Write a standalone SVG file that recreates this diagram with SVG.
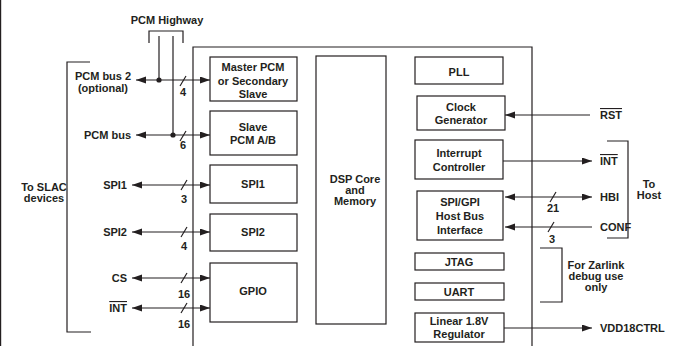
<svg xmlns="http://www.w3.org/2000/svg" width="673" height="346" viewBox="0 0 673 346">
<defs>
<marker id="ah" markerUnits="userSpaceOnUse" markerWidth="11" markerHeight="8" refX="10" refY="3.5" orient="auto-start-reverse">
<path d="M0,0 L10,3.5 L0,7 z" fill="#231f20"/>
</marker>
<style>
text{font-family:"Liberation Sans",Arial,sans-serif;font-weight:bold;font-size:11px;fill:#231f20}
.c{text-anchor:middle}
.r{text-anchor:end}
.box{fill:#fff;stroke:#231f20;stroke-width:1.2}
.ln{fill:none;stroke:#231f20;stroke-width:1.2}
.a2{marker-start:url(#ah);marker-end:url(#ah)}
.a1{marker-end:url(#ah)}
.ov{text-decoration:overline}
</style>
</defs>
<rect width="673" height="346" fill="#fff"/>
<line x1="0.6" y1="0" x2="0.6" y2="346" class="ln"/>

<g id="chip"><path class="ln" d="M193,346 V47 H532 V346"/></g>

<g id="master-pcm"><rect class="box" x="210" y="57" width="87" height="44"/>
<text class="c" x="253" y="71">Master PCM</text><text class="c" x="253" y="85">or Secondary</text><text class="c" x="253" y="98">Slave</text></g>
<g id="slave-pcm"><rect class="box" x="210" y="111" width="87" height="44"/>
<text class="c" x="253" y="131">Slave</text><text class="c" x="253" y="144">PCM A/B</text></g>
<g id="spi1"><rect class="box" x="210" y="165" width="87" height="38"/><text class="c" x="253" y="188">SPI1</text></g>
<g id="spi2"><rect class="box" x="210" y="214" width="87" height="37"/><text class="c" x="253" y="236">SPI2</text></g>
<g id="gpio"><rect class="box" x="210" y="263" width="87" height="59"/><text class="c" x="253" y="295">GPIO</text></g>
<g id="dsp"><rect class="box" x="316" y="56" width="70" height="268"/>
<text class="c" x="355" y="183">DSP Core</text><text class="c" x="355" y="194">and</text><text class="c" x="355" y="205">Memory</text></g>
<g id="pll"><rect class="box" x="415" y="57" width="88" height="27"/><text class="c" x="459" y="76">PLL</text></g>
<g id="clock"><rect class="box" x="417" y="96" width="88" height="34"/>
<text class="c" x="461" y="111">Clock</text><text class="c" x="461" y="124">Generator</text></g>
<g id="interrupt"><rect class="box" x="415" y="140" width="88" height="39"/>
<text class="c" x="459" y="157">Interrupt</text><text class="c" x="459" y="171">Controller</text></g>
<g id="hbi"><rect class="box" x="417" y="191" width="86" height="49"/>
<text class="c" x="460" y="206">SPI/GPI</text><text class="c" x="460" y="220">Host Bus</text><text class="c" x="460" y="234">Interface</text></g>
<g id="jtag"><rect class="box" x="415" y="253" width="89" height="17"/><text class="c" x="459" y="266">JTAG</text></g>
<g id="uart"><rect class="box" x="415" y="283" width="89" height="17"/><text class="c" x="459" y="296">UART</text></g>
<g id="regulator"><rect class="box" x="415" y="313" width="89" height="29"/>
<text class="c" x="459" y="325">Linear 1.8V</text><text class="c" x="459" y="338">Regulator</text></g>

<g id="connectors">
<path class="ln" d="M149,43 V31 H183 V43"/>
<line class="ln" x1="159" y1="36" x2="159" y2="80"/>
<line class="ln" x1="173" y1="36" x2="173" y2="135"/>
<circle cx="159" cy="80" r="2.6" fill="#231f20"/>
<circle cx="173" cy="135" r="2.6" fill="#231f20"/>
<line class="ln a2" x1="136" y1="80" x2="210" y2="80"/>
<line class="ln a2" x1="136" y1="135" x2="210" y2="135"/>
<line class="ln a2" x1="132" y1="185" x2="210" y2="185"/>
<line class="ln a2" x1="132" y1="232" x2="210" y2="232"/>
<line class="ln a2" x1="132" y1="278" x2="210" y2="278"/>
<line class="ln a2" x1="132" y1="308" x2="210" y2="308"/>
<g class="ln">
<line x1="180" y1="86" x2="186" y2="76"/>
<line x1="180" y1="141" x2="186" y2="131"/>
<line x1="181" y1="190" x2="187" y2="180"/>
<line x1="181" y1="237" x2="187" y2="227"/>
<line x1="181" y1="283" x2="187" y2="273"/>
<line x1="181" y1="313" x2="187" y2="303"/>
<line x1="550" y1="202" x2="556" y2="192"/>
<line x1="548" y1="232" x2="554" y2="222"/>
</g>
<path class="ln" d="M90,62 H67 V332 H91"/>
<line class="ln a1" x1="590" y1="115" x2="505" y2="115"/>
<line class="ln a1" x1="503" y1="161" x2="592" y2="161"/>
<line class="ln a2" x1="505" y1="197" x2="592" y2="197"/>
<line class="ln a1" x1="592" y1="227" x2="505" y2="227"/>
<line class="ln a1" x1="504" y1="328" x2="592" y2="328"/>
<path class="ln" d="M607,141 H628 V238 H607"/>
<path class="ln" d="M540,248 H562 V302 H540"/>
</g>

<g id="labels">
<text class="c" x="167" y="24">PCM Highway</text>
<text class="c" x="103" y="80">PCM bus 2</text>
<text class="c" x="103" y="92">(optional)</text>
<text class="r" x="131" y="139">PCM bus</text>
<text class="r" x="127" y="189">SPI1</text>
<text class="r" x="127" y="236">SPI2</text>
<text class="r" x="127" y="282">CS</text>
<text class="r ov" x="127" y="312">INT</text>
<text class="c" x="44" y="191">To SLAC</text>
<text class="c" x="44" y="202">devices</text>
<text class="c" x="183" y="96">4</text>
<text class="c" x="183" y="149">6</text>
<text class="c" x="184" y="203">3</text>
<text class="c" x="184" y="250">4</text>
<text class="c" x="184" y="298">16</text>
<text class="c" x="184" y="328">16</text>
<text class="ov" x="600" y="119">RST</text>
<text class="ov" x="600" y="165">INT</text>
<text x="600" y="201">HBI</text>
<text x="600" y="231">CONF</text>
<text x="600" y="332">VDD18CTRL</text>
<text class="c" x="553" y="212">21</text>
<text class="c" x="552" y="243">3</text>
<text class="c" x="649" y="188">To</text>
<text class="c" x="649" y="199">Host</text>
<text class="c" x="596" y="269">For Zarlink</text>
<text class="c" x="596" y="280">debug use</text>
<text class="c" x="596" y="291">only</text>
</g>
</svg>
